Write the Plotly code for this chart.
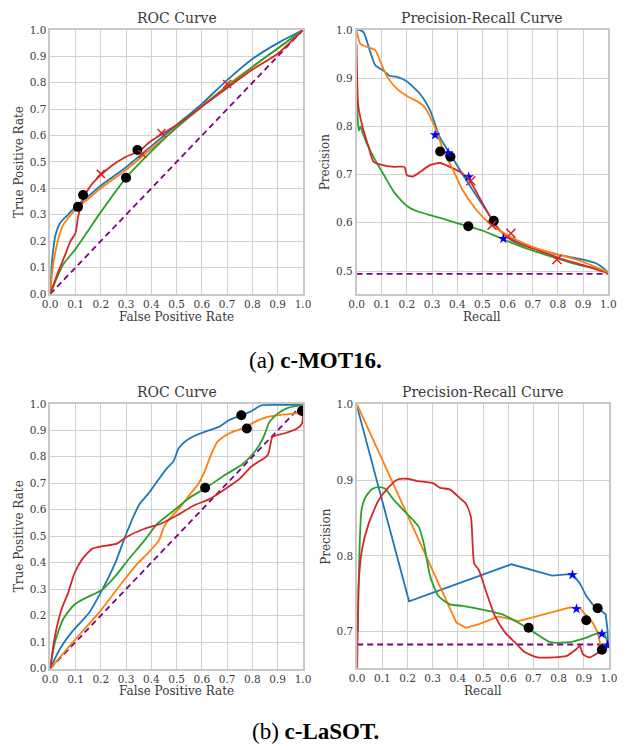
import plotly.graph_objects as go

# ---------------- c-MOT16 : ROC ----------------
mot_roc_blue_x = [0, 0.005, 0.01, 0.02, 0.04, 0.07, 0.1, 0.15, 0.2, 0.3, 0.4, 0.5, 0.6, 0.7, 0.8, 0.9, 1.0]
mot_roc_blue_y = [0, 0.10, 0.15, 0.22, 0.27, 0.30, 0.33, 0.37, 0.41, 0.48, 0.56, 0.64, 0.72, 0.81, 0.89, 0.95, 1.0]
mot_roc_orange_x = [0, 0.01, 0.03, 0.05, 0.1, 0.15, 0.2, 0.3, 0.4, 0.5, 0.6, 0.7, 0.8, 0.9, 1.0]
mot_roc_orange_y = [0, 0.10, 0.20, 0.26, 0.32, 0.36, 0.40, 0.47, 0.55, 0.63, 0.71, 0.79, 0.86, 0.93, 1.0]
mot_roc_green_x = [0, 0.05, 0.1, 0.2, 0.3, 0.4, 0.5, 0.6, 0.7, 0.8, 0.9, 1.0]
mot_roc_green_y = [0, 0.11, 0.17, 0.31, 0.44, 0.54, 0.63, 0.71, 0.785, 0.86, 0.93, 1.0]
mot_roc_red_x = [0, 0.03, 0.06, 0.08, 0.1, 0.11, 0.13, 0.16, 0.2, 0.25, 0.3, 0.35, 0.4, 0.5, 0.6, 0.7, 0.8, 0.9, 1.0]
mot_roc_red_y = [0, 0.08, 0.15, 0.20, 0.23, 0.29, 0.36, 0.41, 0.45, 0.49, 0.52, 0.54, 0.58, 0.64, 0.71, 0.78, 0.85, 0.91, 1.0]
mot_roc_dot_x = [0.13, 0.11, 0.30, 0.345]
mot_roc_dot_y = [0.375, 0.33, 0.44, 0.545]
mot_roc_cross_x = [0.20, 0.365, 0.44, 0.70]
mot_roc_cross_y = [0.455, 0.53, 0.61, 0.795]

# ---------------- c-MOT16 : Precision-Recall ----------------
mot_pr_blue_x = [0, 0.01, 0.028, 0.054, 0.074, 0.11, 0.13, 0.157, 0.2, 0.254, 0.293, 0.33, 0.37, 0.41, 0.46, 0.512, 0.564, 0.615, 0.693, 0.783, 0.848, 0.912, 0.951, 0.983, 1.0]
mot_pr_blue_y = [1.0, 1.0, 0.995, 0.955, 0.927, 0.914, 0.905, 0.903, 0.893, 0.866, 0.832, 0.778, 0.744, 0.71, 0.669, 0.628, 0.587, 0.567, 0.55, 0.536, 0.529, 0.522, 0.516, 0.505, 0.497]
mot_pr_orange_x = [0, 0.015, 0.04, 0.074, 0.1, 0.125, 0.164, 0.2, 0.24, 0.267, 0.306, 0.345, 0.383, 0.42, 0.474, 0.525, 0.59, 0.654, 0.72, 0.81, 0.9, 0.964, 1.0]
mot_pr_orange_y = [1.0, 0.971, 0.965, 0.958, 0.927, 0.9, 0.876, 0.863, 0.852, 0.842, 0.805, 0.75, 0.71, 0.669, 0.628, 0.6, 0.577, 0.56, 0.546, 0.533, 0.519, 0.505, 0.497]
mot_pr_green_x = [0, 0.004, 0.009, 0.015, 0.022, 0.041, 0.074, 0.112, 0.151, 0.2, 0.241, 0.306, 0.37, 0.435, 0.5, 0.564, 0.641, 0.72, 0.796, 0.886, 0.951, 1.0]
mot_pr_green_y = [0.9, 0.82, 0.791, 0.80, 0.79, 0.764, 0.73, 0.696, 0.662, 0.635, 0.624, 0.614, 0.604, 0.594, 0.584, 0.57, 0.553, 0.539, 0.526, 0.512, 0.505, 0.497]
mot_pr_red_x = [0, 0.006, 0.015, 0.028, 0.048, 0.067, 0.1, 0.15, 0.19, 0.2, 0.222, 0.254, 0.293, 0.332, 0.37, 0.41, 0.435, 0.46, 0.5, 0.538, 0.577, 0.628, 0.72, 0.81, 0.9, 0.977, 1.0]
mot_pr_red_y = [0.97, 0.846, 0.818, 0.791, 0.757, 0.727, 0.72, 0.716, 0.716, 0.699, 0.696, 0.706, 0.72, 0.724, 0.716, 0.706, 0.696, 0.679, 0.641, 0.607, 0.58, 0.56, 0.543, 0.526, 0.512, 0.499, 0.495]
mot_pr_base = 0.494
mot_pr_dot_x = [0.332, 0.373, 0.444, 0.545]
mot_pr_dot_y = [0.748, 0.737, 0.593, 0.604]
mot_pr_star_x = [0.312, 0.364, 0.445, 0.583]
mot_pr_star_y = [0.782, 0.745, 0.695, 0.567]
mot_pr_cross_x = [0.454, 0.538, 0.613, 0.796]
mot_pr_cross_y = [0.687, 0.595, 0.578, 0.524]

# ---------------- c-LaSOT : ROC ----------------
las_roc_blue_x = [0, 0.039, 0.09, 0.154, 0.206, 0.257, 0.296, 0.328, 0.353, 0.386, 0.424, 0.463, 0.488, 0.508, 0.533, 0.578, 0.63, 0.668, 0.707, 0.758, 0.797, 0.835, 0.887, 1.0]
las_roc_blue_y = [0, 0.075, 0.143, 0.211, 0.298, 0.398, 0.497, 0.571, 0.621, 0.658, 0.708, 0.758, 0.783, 0.832, 0.857, 0.882, 0.901, 0.913, 0.938, 0.957, 0.973, 0.994, 0.996, 0.996]
las_roc_orange_x = [0, 0.09, 0.193, 0.283, 0.347, 0.386, 0.43, 0.45, 0.476, 0.514, 0.553, 0.585, 0.611, 0.636, 0.662, 0.707, 0.758, 0.81, 0.848, 0.9, 0.964, 0.996, 1.0]
las_roc_orange_y = [0, 0.10, 0.211, 0.323, 0.398, 0.435, 0.484, 0.534, 0.571, 0.609, 0.658, 0.696, 0.745, 0.807, 0.857, 0.888, 0.907, 0.932, 0.947, 0.957, 0.963, 0.969, 0.994]
las_roc_green_x = [0, 0.019, 0.051, 0.096, 0.141, 0.206, 0.257, 0.308, 0.373, 0.424, 0.488, 0.553, 0.617, 0.694, 0.758, 0.81, 0.842, 0.868, 0.9, 0.938, 1.0]
las_roc_green_y = [0, 0.10, 0.186, 0.242, 0.267, 0.298, 0.348, 0.41, 0.484, 0.547, 0.596, 0.646, 0.683, 0.733, 0.77, 0.82, 0.87, 0.932, 0.963, 0.984, 0.996]
las_roc_red_x = [0, 0.019, 0.045, 0.071, 0.096, 0.129, 0.167, 0.206, 0.264, 0.302, 0.373, 0.437, 0.501, 0.566, 0.63, 0.681, 0.746, 0.797, 0.861, 0.88, 0.925, 0.977, 0.996, 1.0]
las_roc_red_y = [0, 0.124, 0.224, 0.286, 0.36, 0.416, 0.453, 0.462, 0.472, 0.497, 0.528, 0.547, 0.578, 0.615, 0.64, 0.671, 0.714, 0.764, 0.807, 0.876, 0.888, 0.907, 0.925, 0.996]
las_roc_dot_x = [0.756, 0.778, 0.613, 0.996]
las_roc_dot_y = [0.957, 0.907, 0.683, 0.973]

# ---------------- c-LaSOT : Precision-Recall ----------------
las_pr_blue_x = [0, 0.206, 0.613, 0.716, 0.774, 0.845, 0.858, 0.884, 0.91, 0.935, 0.961, 0.987, 0.994, 0.997]
las_pr_blue_y = [0.997, 0.74, 0.789, 0.78, 0.774, 0.776, 0.775, 0.764, 0.747, 0.736, 0.729, 0.723, 0.703, 0.681]
las_pr_orange_x = [0, 0.394, 0.432, 0.484, 0.561, 0.639, 0.69, 0.768, 0.845, 0.884, 0.935, 0.955, 0.968, 0.987, 0.997]
las_pr_orange_y = [1.0, 0.712, 0.705, 0.71, 0.72, 0.714, 0.718, 0.725, 0.732, 0.731, 0.712, 0.699, 0.679, 0.677, 0.681]
las_pr_green_x = [0.003, 0.006, 0.017, 0.032, 0.058, 0.084, 0.11, 0.148, 0.2, 0.245, 0.265, 0.29, 0.323, 0.368, 0.419, 0.497, 0.574, 0.639, 0.703, 0.768, 0.845, 0.91, 0.948, 0.981, 0.997]
las_pr_green_y = [0.70, 0.764, 0.86, 0.877, 0.888, 0.891, 0.889, 0.873, 0.855, 0.838, 0.816, 0.773, 0.747, 0.736, 0.734, 0.729, 0.723, 0.712, 0.699, 0.686, 0.686, 0.692, 0.697, 0.697, 0.681]
las_pr_red_x = [0, 0.002, 0.006, 0.019, 0.045, 0.084, 0.123, 0.161, 0.2, 0.239, 0.303, 0.329, 0.368, 0.406, 0.432, 0.452, 0.465, 0.484, 0.51, 0.548, 0.587, 0.626, 0.665, 0.716, 0.781, 0.832, 0.871, 0.884, 0.897, 0.923, 0.961, 0.997]
las_pr_red_y = [0.652, 0.70, 0.764, 0.808, 0.842, 0.873, 0.89, 0.901, 0.902, 0.899, 0.896, 0.89, 0.888, 0.877, 0.869, 0.851, 0.79, 0.781, 0.755, 0.72, 0.699, 0.686, 0.673, 0.666, 0.666, 0.668, 0.677, 0.681, 0.67, 0.666, 0.673, 0.681]
las_pr_base = 0.683
las_pr_dot_x = [0.681, 0.91, 0.955, 0.972]
las_pr_dot_y = [0.705, 0.715, 0.731, 0.676]
las_pr_star_x = [0.855, 0.871, 0.972, 0.994]
las_pr_star_y = [0.775, 0.73, 0.697, 0.682]

BLUE, ORANGE, GREEN, RED, PURPLE = "#1f77b4", "#ff7f0e", "#2ca02c", "#d62728", "#800080"
SERIF = "DejaVu Serif"
TXT = "#3a3a3a"

fig = go.Figure()


def curve(x, y, color, ax, smooth=True):
    line = dict(color=color, width=1.8)
    if smooth:
        line.update(shape="spline", smoothing=0.6)
    fig.add_trace(go.Scatter(x=x, y=y, mode="lines", line=line,
                             xaxis="x" + ax, yaxis="y" + ax, showlegend=False, hoverinfo="skip"))


def chance(ax, x, y):
    fig.add_trace(go.Scatter(x=x, y=y, mode="lines", line=dict(color=PURPLE, width=1.8, dash="6px,4px"),
                             xaxis="x" + ax, yaxis="y" + ax, showlegend=False, hoverinfo="skip"))


def marks(x, y, ax, symbol, color, size, lw=0):
    fig.add_trace(go.Scatter(x=x, y=y, mode="markers",
                             marker=dict(symbol=symbol, color=color, size=size,
                                         line=dict(color=color, width=lw)),
                             xaxis="x" + ax, yaxis="y" + ax, showlegend=False, hoverinfo="skip"))


# panel 1: MOT16 ROC
chance("", [0, 1], [0, 1])
curve(mot_roc_blue_x, mot_roc_blue_y, BLUE, "")
curve(mot_roc_orange_x, mot_roc_orange_y, ORANGE, "")
curve(mot_roc_green_x, mot_roc_green_y, GREEN, "")
curve(mot_roc_red_x, mot_roc_red_y, RED, "")
marks(mot_roc_dot_x, mot_roc_dot_y, "", "circle", "black", 10)
marks(mot_roc_cross_x, mot_roc_cross_y, "", "x-thin", RED, 8, 1.5)

# panel 2: MOT16 PR
chance("2", [0, 1], [mot_pr_base, mot_pr_base])
curve(mot_pr_blue_x, mot_pr_blue_y, BLUE, "2")
curve(mot_pr_green_x, mot_pr_green_y, GREEN, "2")
curve(mot_pr_red_x, mot_pr_red_y, RED, "2")
curve(mot_pr_orange_x, mot_pr_orange_y, ORANGE, "2")
marks(mot_pr_dot_x, mot_pr_dot_y, "2", "circle", "black", 10)
marks(mot_pr_star_x, mot_pr_star_y, "2", "star", "blue", 8)
marks(mot_pr_cross_x, mot_pr_cross_y, "2", "x-thin", RED, 9, 1.5)

# panel 3: LaSOT ROC
chance("3", [0, 1], [0, 1])
curve(las_roc_blue_x, las_roc_blue_y, BLUE, "3")
curve(las_roc_orange_x, las_roc_orange_y, ORANGE, "3")
curve(las_roc_green_x, las_roc_green_y, GREEN, "3")
curve(las_roc_red_x, las_roc_red_y, RED, "3")
marks(las_roc_dot_x, las_roc_dot_y, "3", "circle", "black", 10)

# panel 4: LaSOT PR (blue and orange keep their sharp corners)
chance("4", [0, 1], [las_pr_base, las_pr_base])
curve(las_pr_blue_x, las_pr_blue_y, BLUE, "4", smooth=False)
curve(las_pr_orange_x, las_pr_orange_y, ORANGE, "4", smooth=False)
curve(las_pr_green_x, las_pr_green_y, GREEN, "4")
curve(las_pr_red_x, las_pr_red_y, RED, "4")
marks(las_pr_dot_x, las_pr_dot_y, "4", "circle", "black", 10)
marks(las_pr_star_x, las_pr_star_y, "4", "star", "blue", 8)

W, H = 627, 750


def px_x(a, b):
    return [a / W, b / W]


def px_y(top, bottom):
    return [1 - bottom / H, 1 - top / H]


axis_common = dict(showgrid=True, gridcolor="#d0d0d0", gridwidth=1, zeroline=False,
                   showline=True, linecolor="#c8c8c8", linewidth=1.5, mirror=True,
                   ticks="", tickfont=dict(family=SERIF, size=10.5, color=TXT),
                   tickformat=".1f")

panels = {
    "": dict(x=(43.3, 302.7), y=(24.3, 292.7), yr=[0, 1.0], ydt=0.1, y0=0),
    "2": dict(x=(357.7, 616.0), y=(24.3, 292.7), yr=[0.4523, 1.0], ydt=0.1, y0=0.5),
    "3": dict(x=(43.3, 302.7), y=(404.3, 673.3), yr=[0, 1.0], ydt=0.1, y0=0),
    "4": dict(x=(358.3, 616.7), y=(404.3, 672.7), yr=[0.652, 1.001], ydt=0.1, y0=0.7),
}

layout = dict(width=W, height=H, margin=dict(l=0, r=0, t=0, b=0),
              paper_bgcolor="white", plot_bgcolor="white", showlegend=False)

for k, p in panels.items():
    xa = dict(axis_common, domain=px_x(*p["x"]), range=[0, 1], dtick=0.1, tick0=0,
              anchor="y" + k)
    ya = dict(axis_common, domain=px_y(*p["y"]), range=p["yr"], dtick=p["ydt"], tick0=p["y0"],
              anchor="x" + k)
    layout["xaxis" + k] = xa
    layout["yaxis" + k] = ya

fig.update_layout(**layout)

ann = []


def text(x, y, s, size, family=SERIF, color=TXT, angle=0):
    ann.append(dict(x=x / W, y=1 - y / H, xref="paper", yref="paper", text=s, showarrow=False,
                    font=dict(family=family, size=size, color=color), textangle=angle,
                    xanchor="center", yanchor="middle"))


for k, p in panels.items():
    cx = (p["x"][0] + p["x"][1]) / 2
    is_roc = k in ("", "3")
    text(cx, p["y"][0] - 12, "ROC Curve" if is_roc else "Precision-Recall Curve", 14)
    text(cx, p["y"][1] + 23, "False Positive Rate" if is_roc else "Recall", 12)
    text(p["x"][0] - 32, (p["y"][0] + p["y"][1]) / 2,
         "True Positive Rate" if is_roc else "Precision", 12, angle=-90)

text(316, 360, "(a) <b>c-MOT16.</b>", 23, family="Liberation Serif", color="black")
text(316, 737, "(b) <b>c-LaSOT.</b>", 23, family="Liberation Serif", color="black")

fig.update_layout(annotations=ann)
fig.write_html("out.html")
